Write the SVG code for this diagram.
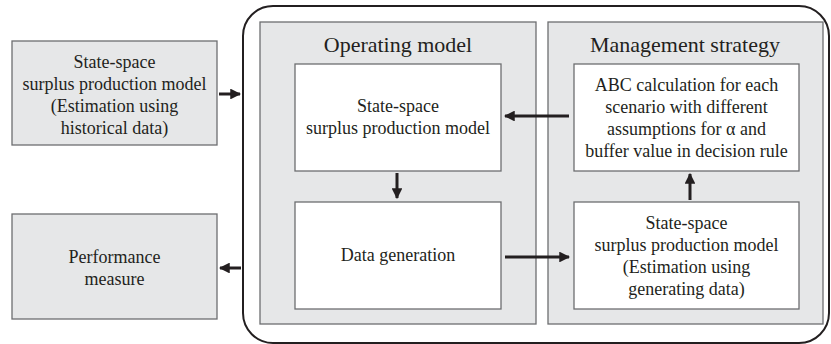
<svg xmlns="http://www.w3.org/2000/svg" width="831" height="344" viewBox="0 0 831 344">
<defs>
<style>
.gbox{fill:#e6e7e8;stroke:#6d6e70;stroke-width:1.3}
.wbox{fill:#fff;stroke:#6d6e70;stroke-width:1.3}
.t{font-family:"Liberation Serif","DejaVu Serif",serif;font-size:18px;fill:#231f20;text-anchor:middle}
.h{font-family:"Liberation Serif","DejaVu Serif",serif;font-size:22px;fill:#231f20;text-anchor:middle}
.c{stroke:#231f20;stroke-width:3;fill:none}
</style>
<marker id="ah" viewBox="0 0 10 10" refX="9" refY="5" markerWidth="3.6" markerHeight="3.6" orient="auto" markerUnits="strokeWidth">
<path d="M0,0 L10,5 L0,10 z" fill="#231f20"/>
</marker>
</defs>
<g id="frame">
<rect x="243" y="6" width="586" height="337" rx="30" ry="30" fill="#fff" stroke="#231f20" stroke-width="2"/>
</g>
<g id="operating-model">
<rect class="gbox" x="260" y="22" width="276" height="302"/>
<text class="h" x="398" y="52">Operating model</text>
</g>
<g id="management-strategy">
<rect class="gbox" x="548" y="22" width="275" height="302"/>
<text class="h" x="685" y="52">Management strategy</text>
</g>
<g id="historical">
<rect class="gbox" x="12" y="41" width="205" height="104"/>
<text class="t" x="114.5" y="68">State-space</text>
<text class="t" x="114.5" y="90">surplus production model</text>
<text class="t" x="114.5" y="112">(Estimation using</text>
<text class="t" x="114.5" y="134">historical data)</text>
</g>
<g id="performance">
<rect class="gbox" x="12" y="214" width="205" height="105"/>
<text class="t" x="114.5" y="263">Performance</text>
<text class="t" x="114.5" y="285">measure</text>
</g>
<g id="om-model">
<rect class="wbox" x="295" y="64" width="206" height="107"/>
<text class="t" x="398" y="112">State-space</text>
<text class="t" x="398" y="134">surplus production model</text>
</g>
<g id="data-generation">
<rect class="wbox" x="295" y="202" width="206" height="107"/>
<text class="t" x="398" y="261">Data generation</text>
</g>
<g id="abc">
<rect class="wbox" x="574" y="64" width="225" height="107"/>
<text class="t" x="686.5" y="91">ABC calculation for each</text>
<text class="t" x="686.5" y="113">scenario with different</text>
<text class="t" x="686.5" y="135">assumptions for α and</text>
<text class="t" x="686.5" y="157">buffer value in decision rule</text>
</g>
<g id="ms-model">
<rect class="wbox" x="574" y="202" width="225" height="107"/>
<text class="t" x="686.5" y="229">State-space</text>
<text class="t" x="686.5" y="251">surplus production model</text>
<text class="t" x="686.5" y="273">(Estimation using</text>
<text class="t" x="686.5" y="295">generating data)</text>
</g>
<g id="connectors">
<line class="c" x1="219" y1="94" x2="240" y2="94" marker-end="url(#ah)"/>
<line class="c" x1="241" y1="268" x2="220" y2="268" marker-end="url(#ah)"/>
<line class="c" x1="397" y1="173" x2="397" y2="198" marker-end="url(#ah)"/>
<line class="c" x1="569" y1="116" x2="505" y2="116" marker-end="url(#ah)"/>
<line class="c" x1="505" y1="257" x2="569" y2="257" marker-end="url(#ah)"/>
<line class="c" x1="690" y1="200" x2="690" y2="174" marker-end="url(#ah)"/>
</g>
</svg>
